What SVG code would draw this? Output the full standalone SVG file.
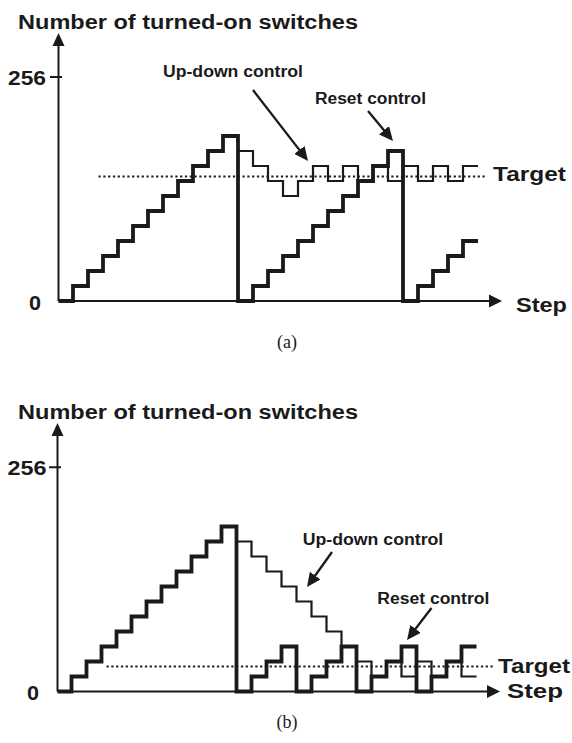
<svg xmlns="http://www.w3.org/2000/svg" width="572" height="743" viewBox="0 0 572 743">
  <style>
    .lbl { font-family: "Liberation Sans", Arial, sans-serif; font-weight: bold; fill: #1a1a1a; }
    .big { font-size: 20px; }
    .small { font-size: 16px; }
    .cap { font-family: "Liberation Serif", "Times New Roman", serif; font-size: 18px; fill: #1a1a1a; }
    .axis { fill: none; stroke: #1a1a1a; stroke-width: 2; }
    .head { fill: #1a1a1a; stroke: none; }
    .thick { fill: none; stroke: #1a1a1a; stroke-width: 3.8; stroke-linejoin: miter; }
    .thin { fill: none; stroke: #1a1a1a; stroke-width: 2.2; stroke-linejoin: miter; }
    .target { fill: none; stroke: #1a1a1a; stroke-width: 2; stroke-dasharray: 2.2 2.6; }
    .pointer { fill: none; stroke: #1a1a1a; stroke-width: 2.3; }
  </style>
  <defs>
    <marker id="tip" markerUnits="userSpaceOnUse" markerWidth="15" markerHeight="13" refX="10" refY="6.5" orient="auto">
      <path d="M0,0 L14,6.5 L0,13 Z" fill="#1a1a1a"/>
    </marker>
  </defs>
  <rect width="572" height="743" fill="#ffffff"/>

  <!-- Panel (a): up-down control vs reset control with a target above mid-range -->
  <g id="panel-a">
    <g id="axes-a">
      <path class="axis" d="M58.5,301 V45 M58.5,301 H490 M50,77 H62"/>
      <polygon class="head" points="58.5,33 52.5,46 64.5,46"/>
      <polygon class="head" points="502,301 489,294.5 489,307.5"/>
      <text class="lbl big" x="18" y="29.3" textLength="340" lengthAdjust="spacingAndGlyphs">Number of turned-on switches</text>
      <text class="lbl big" x="8" y="85" textLength="38" lengthAdjust="spacingAndGlyphs">256</text>
      <text class="lbl big" x="29" y="310" textLength="12" lengthAdjust="spacingAndGlyphs">0</text>
      <text class="lbl big" x="516" y="311.5" textLength="51" lengthAdjust="spacingAndGlyphs">Step</text>
    </g>
    <g id="target-a">
      <line class="target" x1="98.5" y1="176.5" x2="487" y2="176.5"/>
      <text class="lbl big" x="493" y="180.7" textLength="73" lengthAdjust="spacingAndGlyphs">Target</text>
    </g>
    <g id="reset-trace-a">
      <path class="thick" d="M58.5,301 H73 V286 H88 V271 H103 V256 H118 V241 H133 V226 H148 V211 H163 V196 H178 V181 H193 V166 H208 V151 H223 V136 H238 V301 H253 V286 H268 V271 H283 V256 H298 V241 H313 V226 H328 V211 H343 V196 H358 V181 H373 V166 H388 V151 H403 V301 H418 V286 H433 V271 H448 V256 H463 V241 H478"/>
    </g>
    <g id="updown-trace-a">
      <path class="thin" d="M238,151 H253 V166 H268 V181 H283 V196 H298 V181 H313 V166 H328 V181 H343 V166 H358 V181 H373 V166 H388 V181 H403 V166 H418 V181 H433 V166 H448 V181 H463 V166 H478"/>
    </g>
    <g id="callouts-a">
      <text class="lbl small" x="163" y="77.3" textLength="140" lengthAdjust="spacingAndGlyphs">Up-down control</text>
      <text class="lbl small" x="315" y="103.5" textLength="111" lengthAdjust="spacingAndGlyphs">Reset control</text>
      <line class="pointer" x1="253" y1="90" x2="305.55" y2="157.84" marker-end="url(#tip)"/>
      <line class="pointer" x1="368" y1="111" x2="390.44" y2="137.93" marker-end="url(#tip)"/>
    </g>
    <text class="cap" x="287" y="348" text-anchor="middle">(a)</text>
  </g>

  <!-- Panel (b): same controls with a target near the bottom of the range -->
  <g id="panel-b">
    <g id="axes-b">
      <path class="axis" d="M57.5,691.5 V435 M57.5,691.5 H488 M49,467.3 H61"/>
      <polygon class="head" points="57.5,423 51.5,436 63.5,436"/>
      <polygon class="head" points="500,691.5 487,685 487,698"/>
      <text class="lbl big" x="18" y="419.3" textLength="340" lengthAdjust="spacingAndGlyphs">Number of turned-on switches</text>
      <text class="lbl big" x="7.5" y="475" textLength="39" lengthAdjust="spacingAndGlyphs">256</text>
      <text class="lbl big" x="27" y="700" textLength="12" lengthAdjust="spacingAndGlyphs">0</text>
      <text class="lbl big" x="507" y="698" textLength="56" lengthAdjust="spacingAndGlyphs">Step</text>
    </g>
    <g id="target-b">
      <line class="target" x1="106.5" y1="666.5" x2="495" y2="666.5"/>
      <text class="lbl big" x="498" y="673" textLength="72" lengthAdjust="spacingAndGlyphs">Target</text>
    </g>
    <g id="reset-trace-b">
      <path class="thick" d="M57.5,691.5 H71.5 V676.5 H86.5 V661.5 H101.5 V646.5 H116.5 V631.5 H131.5 V616.5 H146.5 V601.5 H161.5 V586.5 H176.5 V571.5 H191.5 V556.5 H206.5 V541.5 H221.5 V526.5 H236.5 V691.5 H251.5 V676.5 H266.5 V661.5 H281.5 V646.5 H296.5 V691.5 H311.5 V676.5 H326.5 V661.5 H341.5 V646.5 H356.5 V691.5 H371.5 V676.5 H386.5 V661.5 H401.5 V646.5 H416.5 V691.5 H431.5 V676.5 H446.5 V661.5 H461.5 V646.5 H476.5"/>
    </g>
    <g id="updown-trace-b">
      <path class="thin" d="M236.5,541.5 H251.5 V556.5 H266.5 V571.5 H281.5 V586.5 H296.5 V601.5 H311.5 V616.5 H326.5 V631.5 H341.5 V646.5 H356.5 V661.5 H371.5 V676.5 H386.5 V661.5 H401.5 V676.5 H416.5 V661.5 H431.5 V676.5 H446.5 V661.5 H461.5 V676.5 H476.5"/>
    </g>
    <g id="callouts-b">
      <text class="lbl small" x="302.7" y="545" textLength="140.6" lengthAdjust="spacingAndGlyphs">Up-down control</text>
      <text class="lbl small" x="377.3" y="604" textLength="112" lengthAdjust="spacingAndGlyphs">Reset control</text>
      <line class="pointer" x1="332" y1="552" x2="309.33" y2="583.74" marker-end="url(#tip)"/>
      <line class="pointer" x1="431.5" y1="608" x2="409.43" y2="636.82" marker-end="url(#tip)"/>
    </g>
    <text class="cap" x="287" y="728" text-anchor="middle">(b)</text>
  </g>
</svg>
